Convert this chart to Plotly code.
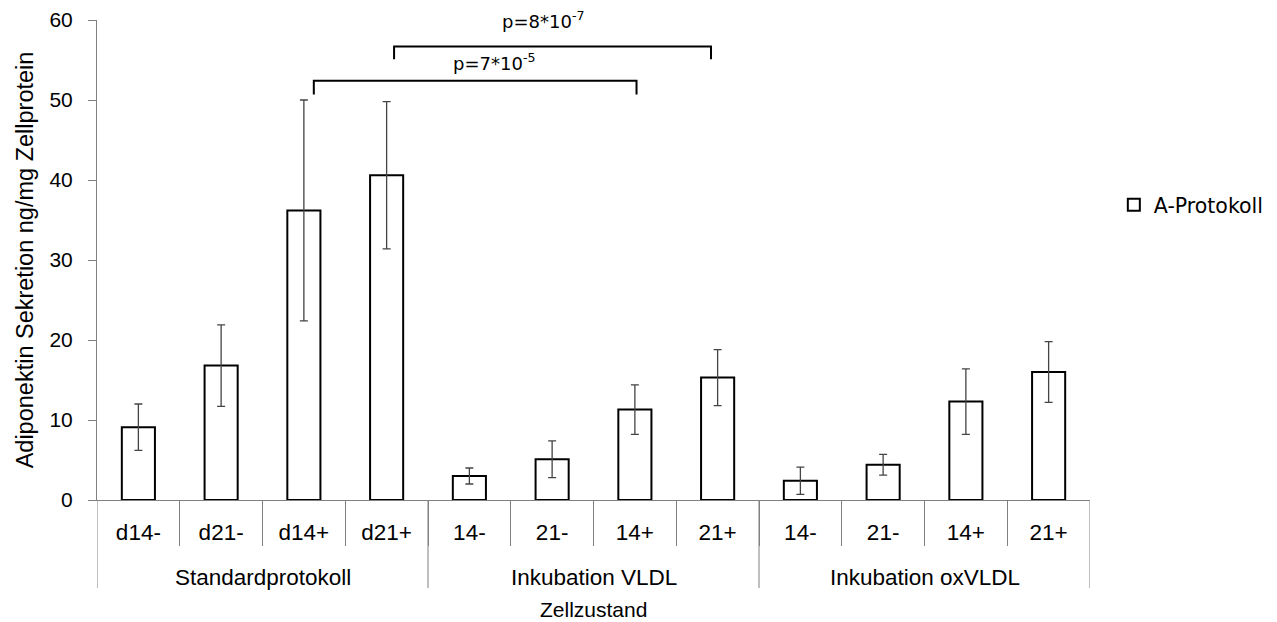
import plotly.graph_objects as go

# ---- data ----
groups = ["Standardprotokoll", "Inkubation VLDL", "Inkubation oxVLDL"]
sub_labels = ["d14-", "d21-", "d14+", "d21+",
              "14-", "21-", "14+", "21+",
              "14-", "21-", "14+", "21+"]
values = [9.1, 16.8, 36.2, 40.6,
          3.0, 5.1, 11.3, 15.3,
          2.4, 4.4, 12.3, 16.0]
errors = [2.9, 5.1, 13.8, 9.2,
          1.0, 2.3, 3.1, 3.5,
          1.7, 1.3, 4.1, 3.8]
series_name = "A-Protokoll"
y_title = "Adiponektin Sekretion ng/mg Zellprotein"
x_title = "Zellzustand"
comparisons = [(2, 6, "p=7*10<sup>-5</sup>"), (3, 7, "p=8*10<sup>-7</sup>")]

n = len(sub_labels)
per_group = n // len(groups)
xpos = list(range(n))

AX = "#808080"
SANS = "Liberation Sans, Arial, sans-serif"
TAH = "DejaVu Sans, Verdana, sans-serif"

fig = go.Figure()
fig.add_trace(go.Bar(
    x=xpos, y=values, width=0.4, name=series_name,
    marker=dict(color="white", line=dict(color="black", width=2)),
    error_y=dict(type="data", array=errors, color="#444444", thickness=1.3, width=4),
    showlegend=True,
))

shapes = []
# group separators below axis
for g in range(len(groups) + 1):
    xb = g * per_group - 0.5
    shapes.append(dict(type="line", xref="x", yref="paper", x0=xb, x1=xb,
                       y0=0, y1=-88 / 480, line=dict(color=AX, width=1)))

annotations = []
for g, name in enumerate(groups):
    annotations.append(dict(text=name, xref="x", yref="paper",
                            x=g * per_group + (per_group - 1) / 2, y=-(77 / 480),
                            showarrow=False, yanchor="middle",
                            font=dict(family=SANS, size=22.5, color="black")))
annotations.append(dict(text=x_title, xref="paper", yref="paper", x=0.5, y=-(109 / 480),
                        showarrow=False, yanchor="middle",
                        font=dict(family=SANS, size=21, color="black")))

# significance brackets
bracket_geo = [
    dict(x0_off=0.12, x1_off=0.02, yh=52.4, ye=50.7, tx_off=0.23, ty=53.0),
    dict(x0_off=0.09, x1_off=-0.08, yh=56.7, ye=55.1, tx_off=-0.12, ty=58.3),
]
for (a, b, label), geo in zip(comparisons, bracket_geo):
    x0 = a + geo["x0_off"]
    x1 = b + geo["x1_off"]
    shapes.append(dict(type="path", xref="x", yref="y",
                       path=f"M {x0},{geo['ye']} L {x0},{geo['yh']} L {x1},{geo['yh']} L {x1},{geo['ye']}",
                       line=dict(color="black", width=2)))
    annotations.append(dict(text=label, xref="x", yref="y",
                            x=(x0 + x1) / 2 + geo["tx_off"], y=geo["ty"],
                            showarrow=False, yanchor="bottom",
                            font=dict(family=TAH, size=18, color="black")))

fig.update_layout(
    width=1277, height=622,
    margin=dict(l=97, r=187, t=20, b=122, autoexpand=False),
    paper_bgcolor="white", plot_bgcolor="white",
    shapes=shapes, annotations=annotations,
    legend=dict(x=1.024, y=0.615, xanchor="left", yanchor="middle",
                font=dict(family=TAH, size=20.5, color="black"),
                bgcolor="rgba(0,0,0,0)"),
    xaxis=dict(range=[-0.5, n - 0.5], tickmode="array", tickvals=xpos, ticktext=sub_labels,
               showline=True, linecolor=AX, linewidth=1, ticks="",
               showgrid=False, zeroline=False, automargin=False,
               tickfont=dict(family=SANS, size=22.5, color="black"),
               ticklabelstandoff=12,
               minor=dict(tickvals=[i + 0.5 for i in range(n - 1)], ticks="outside",
                          ticklen=45, tickcolor=AX, tickwidth=1, showgrid=False)),
    yaxis=dict(range=[0, 60], dtick=10, showline=True, linecolor=AX, linewidth=1,
               ticks="outside", ticklen=8, tickcolor=AX, showgrid=False, zeroline=False,
               ticklabelstandoff=11, automargin=True,
               tickfont=dict(family=SANS, size=21, color="black"),
               title=dict(text=y_title, standoff=9,
                          font=dict(family=SANS, size=23.5, color="black"))),
    bargap=0.6,
)

fig.write_html("out.html")
